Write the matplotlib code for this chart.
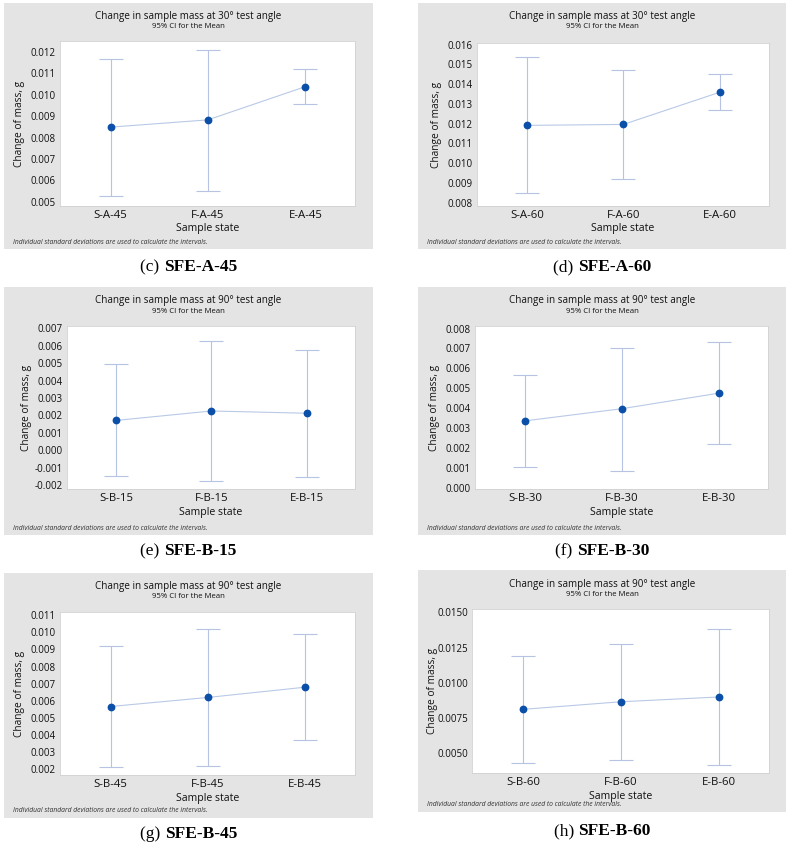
import matplotlib
matplotlib.use("Agg")
import matplotlib.pyplot as plt
from matplotlib.patches import Rectangle
from matplotlib.ticker import FormatStrFormatter, MultipleLocator

plt.rcParams['axes.unicode_minus'] = False

# ---------------- data ----------------
labels_c = ["S-A-45", "F-A-45", "E-A-45"]
mean_c = [0.00849, 0.00883, 0.01038]
low_c = [0.00528, 0.00551, 0.00959]
high_c = [0.01168, 0.01211, 0.01118]

labels_d = ["S-A-60", "F-A-60", "E-A-60"]
mean_d = [0.01191, 0.01196, 0.01359]
low_d = [0.00848, 0.00922, 0.01267]
high_d = [0.01538, 0.01472, 0.01449]

labels_e = ["S-B-15", "F-B-15", "E-B-15"]
mean_e = [0.00171, 0.00225, 0.00212]
low_e = [-0.00151, -0.00177, -0.00156]
high_e = [0.00493, 0.00625, 0.00576]

labels_f = ["S-B-30", "F-B-30", "E-B-30"]
mean_f = [0.00336, 0.00397, 0.00475]
low_f = [0.00105, 0.00085, 0.00221]
high_f = [0.00564, 0.00703, 0.00730]

labels_g = ["S-B-45", "F-B-45", "E-B-45"]
mean_g = [0.00567, 0.00620, 0.00680]
low_g = [0.00213, 0.00221, 0.00369]
high_g = [0.00921, 0.01022, 0.00993]

labels_h = ["S-B-60", "F-B-60", "E-B-60"]
mean_h = [0.00810, 0.00864, 0.00898]
low_h = [0.00426, 0.00452, 0.00417]
high_h = [0.01193, 0.01276, 0.01381]

titles = ["Change in sample mass at 30\u00b0 test angle",
          "Change in sample mass at 30\u00b0 test angle",
          "Change in sample mass at 90\u00b0 test angle",
          "Change in sample mass at 90\u00b0 test angle",
          "Change in sample mass at 90\u00b0 test angle",
          "Change in sample mass at 90\u00b0 test angle"]
caption_tags = ["(c)", "(d)", "(e)", "(f)", "(g)", "(h)"]
caption_names = ["SFE-A-45", "SFE-A-60", "SFE-B-15", "SFE-B-30", "SFE-B-45", "SFE-B-60"]

# ---------------- layout (pixels) ----------------
W, H = 791, 851
fig = plt.figure(figsize=(W / 100, H / 100), dpi=100)
fig.patch.set_facecolor("white")

def fx(p):
    return p / W

def fy(p):
    return 1 - p / H

panels = [
    dict(lab=labels_c, m=mean_c, lo=low_c, hi=high_c, gray=(4, 3, 373, 249), plot=(60, 41, 355, 206),
         ylim=(0.00481, 0.01251), step=0.001, fmt="%.3f", cap_y=267),
    dict(lab=labels_d, m=mean_d, lo=low_d, hi=high_d, gray=(418, 3, 786, 249), plot=(477, 43, 769, 206),
         ylim=(0.00783, 0.01608), step=0.001, fmt="%.3f", cap_y=267),
    dict(lab=labels_e, m=mean_e, lo=low_e, hi=high_e, gray=(4, 287, 373, 535), plot=(67, 326, 355, 489),
         ylim=(-0.00223, 0.00713), step=0.001, fmt="%.3f", cap_y=551),
    dict(lab=labels_f, m=mean_f, lo=low_f, hi=high_f, gray=(418, 287, 786, 535), plot=(475, 326, 768, 489),
         ylim=(-0.00007, 0.00813), step=0.001, fmt="%.3f", cap_y=551),
    dict(lab=labels_g, m=mean_g, lo=low_g, hi=high_g, gray=(4, 573, 373, 818), plot=(60, 612, 355, 775),
         ylim=(0.00167, 0.01119), step=0.001, fmt="%.3f", cap_y=834),
    dict(lab=labels_h, m=mean_h, lo=low_h, hi=high_h, gray=(418, 570, 786, 812), plot=(472, 609, 769, 773),
         ylim=(0.00357, 0.01524), step=0.0025, fmt="%.4f", cap_y=831),
]

UI = ["Open Sans", "DejaVu Sans"]
GRAY = "#e4e4e4"
ERR = "#b6c3e3"
LINE = "#b9c9e6"
DOT = "#0b4fa8"
TXT = "#111111"

caption_pairs = []
for i, p in enumerate(panels):
    gx0, gy0, gx1, gy1 = p["gray"]
    fig.patches.append(Rectangle((fx(gx0), fy(gy1)), (gx1 - gx0) / W, (gy1 - gy0) / H,
                                 transform=fig.transFigure, facecolor=GRAY, edgecolor="none", zorder=-5))
    px0, py0, px1, py1 = p["plot"]
    ax = fig.add_axes([fx(px0), fy(py1), (px1 - px0) / W, (py1 - py0) / H])
    ax.set_zorder(2)
    ax.set_facecolor("white")
    x = list(range(len(p["lab"])))
    ax.plot(x, p["m"], color=LINE, lw=0.8, zorder=2)
    yerr = [[m - l for m, l in zip(p["m"], p["lo"])], [h - m for m, h in zip(p["m"], p["hi"])]]
    ax.errorbar(x, p["m"], yerr=yerr, fmt="none", ecolor=ERR, elinewidth=0.8, capsize=8.3,
                capthick=0.8, zorder=1)
    ax.plot(x, p["m"], "o", color=DOT, ms=4.6, zorder=3)
    ax.set_xlim(-0.52, 2.51)
    ax.set_ylim(*p["ylim"])
    ax.set_xticks(x)
    ax.set_xticklabels(p["lab"], family=UI, fontsize=8.2, color=TXT)
    ax.yaxis.set_major_locator(MultipleLocator(p["step"]))
    ax.yaxis.set_major_formatter(FormatStrFormatter(p["fmt"]))
    for t in ax.get_yticklabels():
        t.set_family(UI)
        t.set_fontsize(7.0)
        t.set_color(TXT)
    ax.tick_params(axis="both", length=0, pad=3)
    ax.tick_params(axis="x", pad=3)
    for s in ax.spines.values():
        s.set_color("#d2d2d2")
        s.set_linewidth(0.6)

    gcx = (gx0 + gx1) / 2
    fig.text(fx(gcx), fy(gy0 + 14), titles[i], family=UI, fontsize=7.1, ha="center", va="center",
             color=TXT)
    fig.text(fx(gcx), fy(gy0 + 24), "95% CI for the Mean", family=UI, fontsize=5.6, ha="center",
             va="center", color=TXT)
    pcx = (px0 + px1) / 2
    fig.text(fx(pcx), fy(py1 + 23), "Sample state", family=UI, fontsize=7.6, ha="center", va="center",
             color=TXT)
    fig.text(fx(px0 - 40), fy((py0 + py1) / 2), "Change of mass, g", family=UI, fontsize=7.3,
             rotation=90, ha="center", va="center", color=TXT)
    fig.text(fx(gx0 + 9), fy(gy1 - 7), "Individual standard deviations are used to calculate the intervals.",
             family=UI, fontsize=4.9, style="italic", ha="left", va="center", color="#333333")

    t1 = fig.text(0, fy(p["cap_y"]), caption_tags[i] + " ", family=["Liberation Serif"], fontsize=12.5,
                  ha="left", va="center", color="black")
    t2 = fig.text(0, fy(p["cap_y"]), caption_names[i], family=["Liberation Serif"], fontsize=12.5,
                  weight="bold", ha="left", va="center", color="black")
    caption_pairs.append((t1, t2, gcx))

fig.canvas.draw()
r = fig.canvas.get_renderer()
for t1, t2, cx in caption_pairs:
    w1 = t1.get_window_extent(r).width
    w2 = t2.get_window_extent(r).width
    start = cx - (w1 + w2) / 2
    t1.set_x(fx(start))
    t2.set_x(fx(start + w1))

fig.savefig("out.png", dpi=100, facecolor="white")
